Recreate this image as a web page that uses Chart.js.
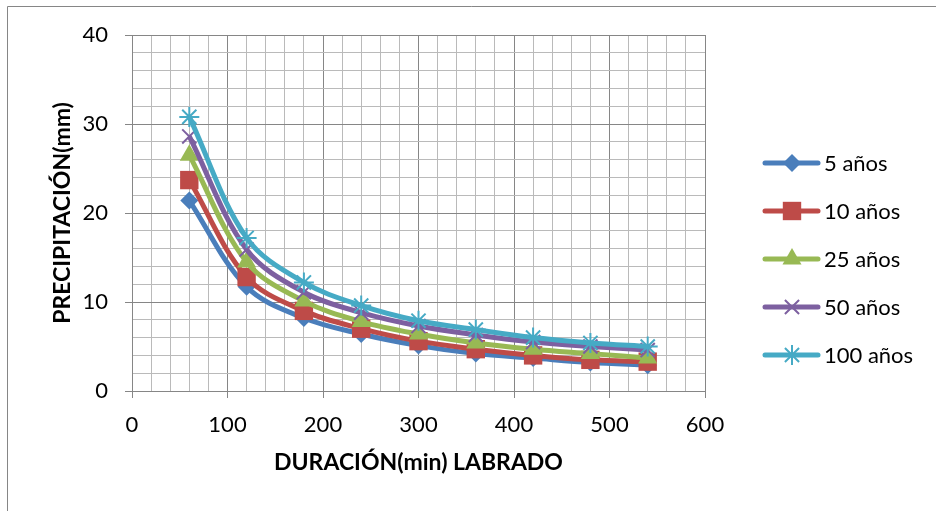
<!DOCTYPE html>
<html lang="es">
<head>
<meta charset="utf-8">
<title>Precipitación - Duración (Labrado)</title>
<script src="https://cdn.jsdelivr.net/npm/chart.js@4.4.1/dist/chart.umd.min.js"></script>
<style>
  html, body { margin: 0; padding: 0; background: #fff; }
  #wrap { width: 936px; height: 511px; }
</style>
</head>
<body>
<div id="wrap"><canvas id="idf-chart" width="936" height="511"></canvas></div>
<script>
/* ============================================
   Curvas precipitación / duración — Labrado
   ============================================ */

// ---- Data ----
const durations = [60, 120, 180, 240, 300, 360, 420, 480, 540];
const seriesNames = ['5 años', '10 años', '25 años', '50 años', '100 años'];
const p5 = [21.4, 11.7, 8.2, 6.4, 5.1, 4.2, 3.7, 3.2, 2.9];
const p10 = [23.7, 12.8, 9.0, 7.0, 5.6, 4.7, 4.0, 3.5, 3.3];
const p25 = [26.5, 14.5, 10.1, 7.8, 6.4, 5.4, 4.7, 4.2, 3.7];
const p50 = [28.6, 15.9, 11.1, 8.8, 7.3, 6.3, 5.5, 5.0, 4.6];
const p100 = [30.8, 17.2, 12.2, 9.6, 7.9, 6.9, 6.0, 5.4, 5.0];
const xTickLabels = [0, 100, 200, 300, 400, 500, 600];
const yTickLabels = [0, 10, 20, 30, 40];

(function() {
  'use strict';

  // Excel 2007 palette
  const cBlue = '#4a7ebb';
  const cRed = '#be4b48';
  const cGreen = '#98b954';
  const cPurple = '#7d60a0';
  const cCyan = '#46aac5';
  const cMajor = '#868686';
  const cMinor = '#bababa';
  const FONT = 'Lato, "Open Sans", sans-serif';

  Chart.defaults.font.family = FONT;
  Chart.defaults.color = '#000';

  const values = [p5, p10, p25, p50, p100];
  const colors = [cBlue, cRed, cGreen, cPurple, cCyan];
  const markers = [
    { pointStyle: 'rectRot', pointRadius: 9, pointBorderWidth: 0 },
    { pointStyle: 'rect', pointRadius: 13, pointBorderWidth: 0 },
    { pointStyle: 'triangle', pointRadius: 11, pointBorderWidth: 0 },
    { pointStyle: 'crossRot', pointRadius: 10, pointBorderWidth: 2 },
    { pointStyle: 'star', pointRadius: 10, pointBorderWidth: 2 }
  ];

  const datasets = seriesNames.map((name, i) => ({
    label: name,
    data: durations.map((d, j) => ({ x: d, y: values[i][j] })),
    borderColor: colors[i],
    borderWidth: 5,
    tension: 0.35,
    pointBackgroundColor: colors[i],
    pointBorderColor: colors[i],
    pointHoverRadius: markers[i].pointRadius,
    order: seriesNames.length - i, // later series on top, like Excel
    ...markers[i]
  }));

  // ---- Plugins ----
  const frame = {
    id: 'frame',
    beforeDraw(chart) {
      const { ctx, width, height } = chart;
      ctx.save();
      ctx.fillStyle = '#fff';
      ctx.fillRect(0, 0, width, height);
      ctx.strokeStyle = cMajor;
      ctx.lineWidth = 1;
      ctx.beginPath();
      ctx.moveTo(7.5, height);
      ctx.lineTo(7.5, 6.5);
      ctx.lineTo(width, 6.5);
      ctx.stroke();
      ctx.restore();
    }
  };

  const sideLegend = {
    id: 'sideLegend',
    afterDraw(chart) {
      const { ctx } = chart;
      ctx.save();
      chart.data.datasets.forEach((ds, i) => {
        const y = 163 + i * 48;
        ctx.strokeStyle = ds.borderColor;
        ctx.lineWidth = 5;
        ctx.lineCap = 'round';
        ctx.beginPath();
        ctx.moveTo(765, y);
        ctx.lineTo(818, y);
        ctx.stroke();

        ctx.fillStyle = ds.pointBackgroundColor;
        ctx.strokeStyle = ds.pointBorderColor;
        ctx.lineWidth = ds.pointBorderWidth;
        ctx.lineCap = 'butt';
        Chart.helpers.drawPoint(ctx, {
          pointStyle: ds.pointStyle,
          radius: ds.pointRadius,
          rotation: 0,
          borderWidth: ds.pointBorderWidth
        }, 792, y);

        ctx.fillStyle = '#000';
        ctx.font = '22px ' + FONT;
        ctx.textAlign = 'left';
        ctx.textBaseline = 'middle';
        ctx.fillText(ds.label, 824, y + 1);
      });
      ctx.restore();
    }
  };

  // ---- Scales ----
  const gridFor = (majors) => ({
    color: c => (c.tick && majors.includes(c.tick.value)) ? cMajor : cMinor,
    tickColor: c => (c.tick && majors.includes(c.tick.value)) ? cMajor : 'rgba(0,0,0,0)',
    lineWidth: 1,
    tickLength: 7
  });

  const scales = {
    x: {
      type: 'linear',
      min: 0,
      max: 600,
      afterFit: s => { s.height = 120; },
      border: { color: cMajor },
      grid: gridFor(xTickLabels),
      ticks: {
        stepSize: 20,
        autoSkip: false,
        maxRotation: 0,
        padding: 14,
        font: { size: 22 },
        callback: v => xTickLabels.includes(v) ? String(v) : ''
      },
      title: {
        display: true,
        text: 'DURACIÓN(min) LABRADO',
        font: { size: 23, weight: 'bold' },
        padding: { top: 0, bottom: 35 }
      }
    },
    y: {
      min: 0,
      max: 40,
      afterFit: s => { s.width = 132; },
      border: { color: cMajor },
      grid: gridFor(yTickLabels),
      ticks: {
        stepSize: 2,
        autoSkip: false,
        padding: 17,
        font: { size: 22 },
        callback: v => yTickLabels.includes(v) ? String(v) : ''
      },
      title: {
        display: true,
        text: 'PRECIPITACIÓN(mm)',
        font: { size: 23, weight: 'bold' },
        padding: { top: 49, bottom: 0 }
      }
    }
  };

  // ---- Chart ----
  function init() {
    new Chart(document.getElementById('idf-chart'), {
      type: 'line',
      data: { datasets },
      options: {
        responsive: false,
        animation: false,
        devicePixelRatio: 1,
        layout: { padding: { left: 0, top: 35, right: 231, bottom: 0 } },
        plugins: {
          legend: { display: false },
          tooltip: { enabled: false }
        },
        scales
      },
      plugins: [frame, sideLegend]
    });
  }

  init();
})();
</script>
</body>
</html>
